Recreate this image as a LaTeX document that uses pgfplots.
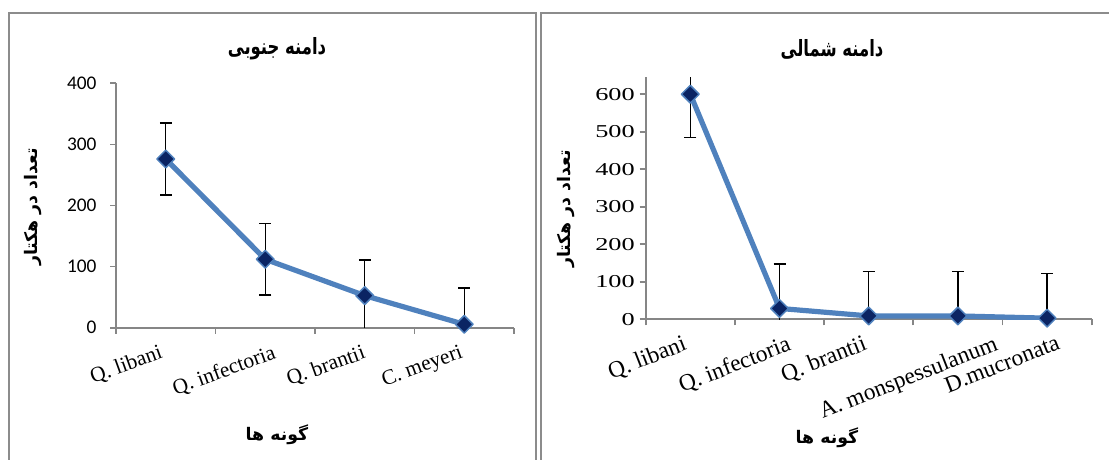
\documentclass[border=0pt]{standalone}
\usepackage{fontspec}
\usepackage{pgfplots}
\pgfplotsset{compat=1.18}
\setmainfont{Liberation Serif}
\newfontfamily\carlito{Carlito}
\newfontfamily\fa[Script=Arabic]{DejaVu Sans}
\TeXXeTstate=1
\definecolor{exblue}{HTML}{4F81BD}
\definecolor{navy}{HTML}{0B2463}
\definecolor{axgray}{HTML}{868686}
\definecolor{framegray}{HTML}{8C8C8C}
\pgfplotsset{
  mystyle/.style={
    scale only axis,
    axis x line*=bottom, axis y line*=left,
    axis line style={draw=axgray, line width=1.3pt},
    tick align=outside,
    major tick length=4.5pt, minor tick length=4.5pt,
    every tick/.style={draw=axgray, line width=1.3pt},
    major x tick style={draw=none},
    xticklabel style={rotate=20, anchor=north east, inner sep=0pt, yshift=-8pt, font=\fontsize{16}{16}\selectfont},
    yticklabel style={anchor=east, inner sep=0pt},
    clip=true,
  },
  myplot/.style={
    exblue, line width=3.9pt, line join=round,
    mark=square*, mark size=4.7pt,
    mark options={rotate=45, fill=navy, draw=exblue, line width=1.1pt},
    error bars/.cd, y dir=both, y explicit,
    error bar style={black, line width=1.1pt},
    error mark options={black, line width=1.1pt, mark size=4.5pt, rotate=90},
  },
}
\newcommand\ttl[1]{\scalebox{0.88}[1.2]{\fa\bfseries\fontsize{14}{14}\selectfont\beginR #1\endR}}
\newcommand\lbl[1]{{\fa\bfseries\fontsize{13}{13}\selectfont\beginR #1\endR}}
\begin{document}
\begin{tikzpicture}[x=0.75pt,y=0.75pt]
\path[use as bounding box] (0,0) rectangle (1109,460);
\coordinate (LA) at (116,132.3);
\coordinate (RA) at (645.7,140.7);
\draw[framegray, line width=1.5pt] (8.5,-20) -- (8.5,446.5) -- (535.5,446.5) -- (535.5,-20);
\draw[framegray, line width=1.5pt] (541,-20) -- (541,446.5) -- (1130,446.5);

\begin{axis}[mystyle,
  at={(LA)}, anchor=south west,
  width=298.5pt, height=183.3pt,
  xmin=-0.5, xmax=3.5, ymin=0, ymax=400,
  minor xtick={-0.5,0.5,1.5,2.5,3.5},
  xtick={-0.11,1.03,1.93,2.91},
  xticklabels={Q. libani, Q. infectoria, Q. brantii, C. meyeri},
  ytick={0,100,200,300,400},
  yticklabels={0,100,200,300,400},
  yticklabel style={font=\carlito\fontsize{14.5}{14.5}\selectfont, xshift=-10pt},
]
\addplot[myplot] coordinates {
  (0,276) +- (0,59)
  (1,112) +- (0,58.5)
  (2,52.5) +- (0,58.5)
  (3,5.5) +- (0,59.5)
};
\end{axis}

\begin{axis}[mystyle,
  at={(RA)}, anchor=south west,
  width=334.5pt, height=181.5pt,
  xmin=-0.5, xmax=4.5, ymin=0, ymax=645,
  minor xtick={-0.5,0.5,1.5,2.5,3.5,4.5},
  xtick={-0.13,1.04,1.89,3.36,4.06},
  xticklabels={Q. libani, Q. infectoria, Q. brantii, A. monspessulanum, D.mucronata},
  xticklabel style={font=\fontsize{17.5}{17.5}\selectfont, rotate=1.5, yshift=1pt},
  ytick={0,100,200,300,400,500,600},
  yticklabels={\scalebox{1.45}[1]{0},\scalebox{1.45}[1]{100},\scalebox{1.45}[1]{200},\scalebox{1.45}[1]{300},\scalebox{1.45}[1]{400},\scalebox{1.45}[1]{500},\scalebox{1.45}[1]{600}},
  yticklabel style={font=\fontsize{13.6}{13.6}\selectfont, xshift=-3.5pt},
]
\addplot[myplot] coordinates {
  (0,600) +- (0,116)
  (1,29) +- (0,118)
  (2,9) +- (0,118)
  (3,9) +- (0,118)
  (4,3) +- (0,119)
};
\end{axis}

\node at (277,411) {\ttl{دامنه جنوبی}};
\node at (832,411) {\ttl{دامنه شمالی}};
\node[rotate=90] at (33,253) {\lbl{تعداد در هکتار}};
\node[rotate=90] at (566,251) {\lbl{تعداد در هکتار}};
\node at (277,25) {\lbl{گونه ها}};
\node at (827,22) {\lbl{گونه ها}};
\end{tikzpicture}
\end{document}
